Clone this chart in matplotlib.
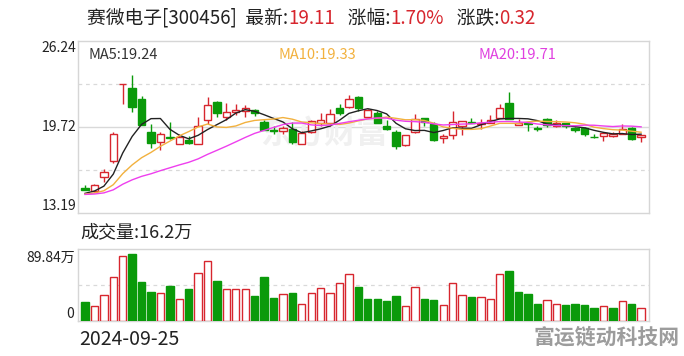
import matplotlib
matplotlib.use("Agg")
import matplotlib.pyplot as plt
import numpy as np
import pandas as pd

plt.rcParams["font.family"] = ["Noto Sans CJK SC", "DejaVu Sans"]

# daily OHLC (60 sessions, first one 2024-09-25)
opens = [15.08, 14.85, 15.91, 17.16, 22.98, 22.68, 21.87, 19.37, 18.62, 19.00,
         18.47, 18.71, 18.47, 20.27, 21.65, 20.52, 20.87, 20.92, 21.05, 20.09,
         19.50, 19.42, 19.54, 18.47, 19.34, 20.05, 20.02, 21.17, 21.22, 22.03,
         20.52, 20.80, 19.84, 19.34, 18.34, 19.34, 20.39, 19.97, 18.89, 19.09,
         19.84, 20.07, 19.92, 20.02, 20.42, 21.55, 19.90, 20.02, 19.62, 20.30,
         19.77, 20.02, 19.67, 19.67, 19.00, 19.02, 19.08, 19.22, 19.67, 18.98]
highs = [15.35, 15.40, 16.58, 19.34, 23.00, 23.68, 22.10, 19.97, 19.34, 20.09,
         19.22, 19.07, 20.47, 21.97, 21.72, 21.55, 21.48, 21.40, 21.10, 20.27,
         19.84, 19.84, 20.09, 19.41, 20.22, 20.77, 21.10, 21.48, 22.18, 22.10,
         21.10, 20.97, 20.22, 19.47, 19.15, 20.72, 20.42, 20.09, 19.22, 20.97,
         20.20, 20.42, 20.35, 20.60, 21.48, 22.35, 20.35, 20.05, 19.84, 20.38,
         20.22, 20.05, 19.70, 19.70, 19.17, 19.30, 19.35, 19.92, 19.75, 19.15]
lows = [14.95, 14.80, 15.58, 17.00, 21.48, 20.84, 19.85, 18.16, 17.96, 18.84,
        18.45, 18.41, 18.45, 19.97, 20.47, 20.22, 20.60, 20.47, 20.54, 19.47,
        19.22, 19.17, 18.41, 18.45, 19.30, 19.84, 19.84, 20.60, 21.20, 20.92,
        20.50, 20.00, 19.50, 18.09, 18.30, 19.30, 19.77, 18.68, 18.51, 18.84,
        19.09, 20.00, 19.59, 20.00, 20.40, 20.30, 19.88, 19.41, 19.39, 19.70,
        19.75, 19.65, 19.34, 19.02, 18.86, 18.66, 19.00, 19.20, 18.75, 18.60]
closes = [14.95, 15.33, 16.33, 19.17, 23.00, 21.22, 19.90, 18.51, 19.22, 18.93,
          18.96, 18.54, 19.84, 21.40, 20.80, 20.84, 21.02, 21.15, 20.77, 19.50,
          19.45, 19.67, 18.59, 19.26, 20.18, 20.24, 20.72, 20.80, 21.85, 21.17,
          21.02, 20.02, 19.54, 18.29, 19.09, 20.35, 20.09, 18.71, 19.07, 20.14,
          20.17, 20.03, 20.06, 20.27, 21.17, 20.35, 20.02, 19.92, 19.59, 19.90,
          20.02, 19.77, 19.47, 19.17, 18.96, 19.24, 19.20, 19.59, 18.79, 19.11]
# closes before the window, only there to seed the moving averages
pre_closes = [14.70, 14.62, 14.55, 14.50, 14.58, 14.63, 14.57, 14.52, 14.60, 14.63,
              14.55, 14.62, 14.58, 14.65, 14.60, 14.45, 14.48, 14.60, 15.02]
# volume, 万股
volumes = [23.7, 19.6, 33.3, 55.8, 82.0, 83.6, 48.7, 36.2, 35.8, 43.7,
           28.3, 39.9, 60.7, 75.7, 49.9, 40.8, 40.8, 40.8, 31.2, 54.9,
           28.7, 34.5, 34.9, 22.0, 35.8, 42.0, 35.8, 48.3, 59.5, 42.4,
           27.5, 27.5, 25.0, 31.2, 19.6, 43.3, 27.5, 26.2, 20.8, 48.3,
           33.3, 30.0, 30.8, 27.5, 59.5, 62.4, 36.2, 33.7, 21.2, 27.0,
           22.0, 20.0, 21.2, 20.0, 16.6, 19.6, 16.6, 25.8, 21.2, 16.2]

# values printed in the legend row
ma_periods = [5, 10, 20]
ma_last = [19.24, 19.33, 19.71]

first_date = "2024-09-25"
price_ticks = [13.19, 19.72, 26.24]
vol_max = 89.84

RED = "#d7262e"
GREEN = "#0a9a0a"
BORDER = "#d6d6d6"
MA_COLORS = ["#222222", "#f2b13e", "#ee3fee"]
MA_TEXT = ["#333333", "#f2b13e", "#e040e0"]

o, h, l, c = (np.array(a) for a in (opens, highs, lows, closes))
v = np.array(volumes)
x = np.arange(len(c))

full = pd.Series(pre_closes + closes)
n0 = len(pre_closes)
ma = {k: full.rolling(k).mean().iloc[n0:].to_numpy() for k in ma_periods}
prev_close = full.shift(1).iloc[n0:].to_numpy()

fig = plt.figure(figsize=(6.84, 3.56), dpi=100)
ax = fig.add_axes([0.1145, 0.4008, 0.8348, 0.4840])
axv = fig.add_axes([0.1145, 0.0975, 0.8348, 0.2022])

for a in (ax, axv):
    a.set_xlim(-0.71, len(c) - 0.13)
    a.set_xticks([])
    a.set_yticks([])
    for s in a.spines.values():
        s.set_color(BORDER)
        s.set_linewidth(1)

# price panel
ax.set_ylim(price_ticks[0], price_ticks[-1])
ax.axhline(price_ticks[1], color="#d9d9d9", lw=1, zorder=0)
step = (price_ticks[1] - price_ticks[0]) / 2
for yy in (price_ticks[0] + step, price_ticks[1] + step):
    ax.axhline(yy, color="#d9d9d9", lw=0.9, ls=(0, (3, 3)), zorder=0)

ax.text(0.43, 0.455, "东方财富", transform=ax.transAxes, fontsize=23,
        fontweight="bold", color="#f0f0f0", ha="center", va="center", zorder=0)

up = c >= o
cols = np.where(up, RED, GREEN)
ax.vlines(x, l, h, colors=cols, lw=1, zorder=2)
ax.bar(x, np.maximum(np.abs(c - o), 0.02), bottom=np.minimum(o, c), width=0.78,
       facecolor=np.where(up, "white", GREEN), edgecolor=cols, lw=1, zorder=3)

for k, col in zip(ma_periods, MA_COLORS):
    ax.plot(x, ma[k], color=col, lw=1, zorder=4)

for k, val, col, xpos in zip(ma_periods, ma_last, MA_TEXT, (0.017, 0.350, 0.700)):
    ax.text(xpos, 0.919, f"MA{k}:{val:.2f}", transform=ax.transAxes,
            fontsize=10.5, color=col, va="center")

for yy, va in zip(price_ticks, ("bottom", "center", "top")):
    ax.text(-0.004, yy, f"{yy:.2f}", transform=ax.get_yaxis_transform(),
            fontsize=10, color="#222222", ha="right", va=va)

# volume panel
axv.set_ylim(0, vol_max)
axv.axhline(vol_max / 2, color="#d9d9d9", lw=0.9, ls=(0, (3, 3)), zorder=0)
vup = c >= prev_close
vcols = np.where(vup, RED, GREEN)
axv.bar(x, v, width=0.78, facecolor=np.where(vup, "white", GREEN),
        edgecolor=vcols, lw=1, zorder=3)
axv.text(-0.005, vol_max * 0.985, f"{vol_max:.2f}万", transform=axv.get_yaxis_transform(),
         fontsize=10, color="#222222", ha="right", va="top")
axv.text(-0.008, 0.5, "0", transform=axv.get_yaxis_transform(),
         fontsize=10, color="#222222", ha="right", va="bottom")

fig.text(0.118, 0.348, f"成交量:{v[-1]:.1f}万", fontsize=13, color="#222222", va="center")
fig.text(0.1155, 0.045, first_date, fontsize=14, color="#222222", va="center")
fig.text(0.993, 0.052, "富运链动科技网", fontsize=15, fontweight="bold",
         color="#9c9c9c", ha="right", va="center")

# header, values in red
chg = c[-1] - c[-2]
parts = [("赛微电子[300456]  最新:", "#222222"), (f"{c[-1]:.2f}", RED),
         ("   涨幅:", "#222222"), (f"{chg / c[-2] * 100:.2f}%", RED),
         ("   涨跌:", "#222222"), (f"{chg:.2f}", RED)]
prev = fig.text(0.127, 0.949, parts[0][0], fontsize=13.5, color=parts[0][1], va="center")
for txt, col in parts[1:]:
    prev = ax.annotate(txt, xy=(1, 0.5), xycoords=prev, fontsize=13.5, color=col,
                       va="center", annotation_clip=False)

fig.savefig("out.png", dpi=100)
